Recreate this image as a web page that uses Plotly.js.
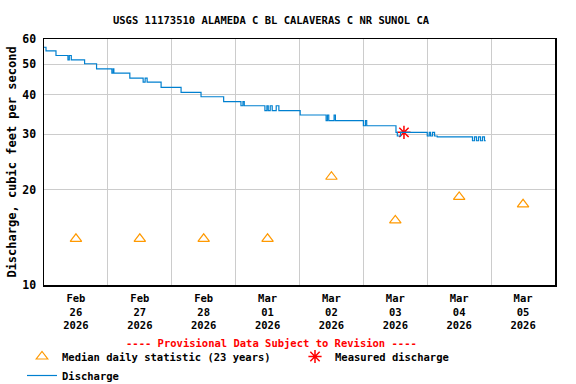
<!DOCTYPE html>
<html>
<head>
<meta charset="utf-8">
<script src="https://cdn.plot.ly/plotly-3.0.1.min.js"></script>
<style>html,body{margin:0;padding:0;background:#fff;}#chart{width:576px;height:384px;}</style>
</head>
<body>
<div id="chart"></div>
<script>
const chartTitle = 'USGS 11173510 ALAMEDA C BL CALAVERAS C NR SUNOL CA';
const yTitle = 'Discharge, cubic feet per second';
const provisionalText = '---- Provisional Data Subject to Revision ----';

const dischargeTimes = [
  '2026-02-26 00:00','2026-02-26 00:45','2026-02-26 04:30','2026-02-26 09:00','2026-02-26 09:30','2026-02-26 10:15',
  '2026-02-26 15:15','2026-02-26 19:45','2026-02-27 01:30','2026-02-27 02:00','2026-02-27 02:15','2026-02-27 08:15',
  '2026-02-27 13:15','2026-02-27 14:00','2026-02-27 14:45','2026-02-27 20:00','2026-02-28 03:30','2026-02-28 11:00',
  '2026-02-28 19:30','2026-03-01 02:00','2026-03-01 02:45','2026-03-01 03:15','2026-03-01 11:00','2026-03-01 11:45',
  '2026-03-01 12:15','2026-03-01 13:00','2026-03-01 13:45','2026-03-01 15:15','2026-03-01 16:15','2026-03-02 00:15',
  '2026-03-02 10:00','2026-03-02 10:30','2026-03-02 11:00','2026-03-02 13:00','2026-03-02 13:30','2026-03-03 00:00',
  '2026-03-03 00:45','2026-03-03 01:15','2026-03-03 12:15','2026-03-03 12:45','2026-03-03 14:00','2026-03-04 00:00',
  '2026-03-04 00:45','2026-03-04 01:15','2026-03-04 02:00','2026-03-04 02:45','2026-03-04 03:45','2026-03-04 17:00',
  '2026-03-04 17:45','2026-03-04 18:30','2026-03-04 19:15','2026-03-04 20:00','2026-03-04 20:45','2026-03-04 21:30',
  '2026-03-04 22:00'
];
const dischargeValues = [
  56.5, 55.0, 53.2, 51.5, 53.2, 51.5,
  50.1, 48.3, 46.8, 48.3, 46.8, 45.1,
  43.8, 45.1, 43.8, 42.2, 40.7, 39.4,
  38.0, 36.9, 38.0, 36.9, 35.6, 36.9,
  35.6, 36.9, 35.6, 36.9, 35.6, 34.5,
  33.1, 34.5, 33.1, 34.5, 33.1, 31.9,
  33.1, 31.9, 30.4, 29.6, 30.4, 29.6,
  30.4, 29.6, 30.4, 29.6, 29.4, 28.6,
  29.4, 28.6, 29.4, 28.6, 29.4, 28.6,
  28.6
];

const medianDates = ['2026-02-26 12:00','2026-02-27 12:00','2026-02-28 12:00','2026-03-01 12:00',
                     '2026-03-02 12:00','2026-03-03 12:00','2026-03-04 12:00','2026-03-05 12:00'];
const medianValues = [14, 14, 14, 14, 22, 16, 19, 18];

const measuredTimes = ['2026-03-03 15:15'];
const measuredValues = [30.4];

const yTickVals = [10, 20, 30, 40, 50, 60];
const xRange = ['2026-02-26 00:00', '2026-03-06 00:00'];

const mono = 'DejaVu Sans Mono, Liberation Mono, monospace';
const baseFont = {family: mono, size: 10.5, color: '#000', weight: 'bold'};

const traces = [
  {
    x: medianDates, y: medianValues, type: 'scatter', mode: 'markers',
    name: 'Median daily statistic (23 years)',
    marker: {symbol: 'triangle-up-open', size: 10, color: '#FF9900', line: {width: 1.2, color: '#FF9900'}},
    hoverinfo: 'skip'
  },
  {
    x: measuredTimes, y: measuredValues, type: 'scatter', mode: 'markers',
    name: 'Measured discharge',
    marker: {symbol: 'asterisk-open', size: 11, color: '#FF0000', line: {width: 1.5, color: '#FF0000'}},
    hoverinfo: 'skip'
  },
  {
    x: dischargeTimes, y: dischargeValues, type: 'scatter', mode: 'lines',
    name: 'Discharge',
    line: {color: '#0080D0', width: 1.2, shape: 'hv'},
    hoverinfo: 'skip'
  }
];

const layout = {
  width: 576, height: 384,
  margin: {l: 44, r: 21, t: 39, b: 99, autoexpand: false},
  paper_bgcolor: '#fff', plot_bgcolor: '#fff',
  font: baseFont,
  showlegend: true,
  title: {text: chartTitle, font: baseFont, x: 271/576, xanchor: 'center', xref: 'container',
          y: 1 - 20/384, yanchor: 'middle', yref: 'container'},
  xaxis: {
    type: 'date', range: xRange, tick0: '2026-02-26', dtick: 86400000,
    ticklabelmode: 'period', tickformat: '%b<br>%d<br>%Y',
    showgrid: true, gridcolor: '#CCCCCC', gridwidth: 1,
    ticks: '', showline: true, linecolor: '#000', linewidth: 1.5, mirror: true,
    zeroline: false, tickfont: baseFont, ticklabelstandoff: 3, fixedrange: true
  },
  yaxis: {
    type: 'log', range: [1, Math.log10(60)],
    tickvals: yTickVals, ticktext: yTickVals.map(String),
    showgrid: true, gridcolor: '#CCCCCC', gridwidth: 1,
    ticks: '', showline: true, linecolor: '#000', linewidth: 1.5, mirror: true,
    zeroline: false, tickfont: {family: mono, size: 11.5, color: '#000', weight: 'bold'},
    ticklabelstandoff: 4,
    title: {text: yTitle, font: {family: mono, size: 12, color: '#000', weight: 'bold'}, standoff: 3},
    fixedrange: true
  },
  legend: {
    orientation: 'h', x: (22-44)/511, xanchor: 'left', xref: 'paper',
    y: (285-342)/246, yanchor: 'top', yref: 'paper',
    font: baseFont, bgcolor: 'rgba(0,0,0,0)', borderwidth: 0,
    entrywidth: 228, entrywidthmode: 'pixels', traceorder: 'normal'
  },
  annotations: [
    {text: provisionalText, xref: 'paper', yref: 'paper', x: (271-44)/511, y: (285-343)/246,
     xanchor: 'center', yanchor: 'middle', showarrow: false,
     font: {family: mono, size: 10.5, color: '#FF0000', weight: 'bold'}}
  ]
};

Plotly.newPlot('chart', traces, layout, {staticPlot: true, displayModeBar: false});
</script>
</body>
</html>
